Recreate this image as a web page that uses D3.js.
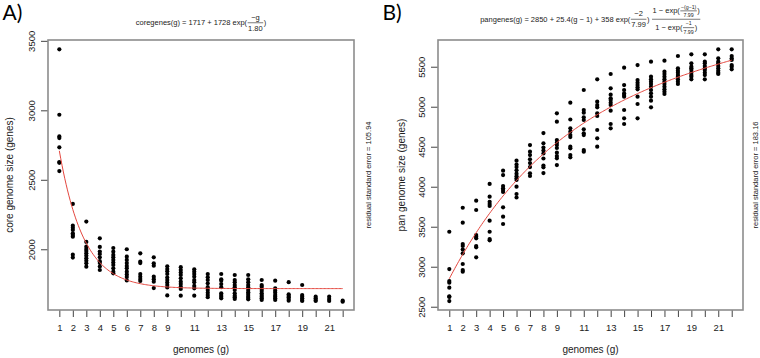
<!DOCTYPE html>
<html>
<head>
<meta charset="utf-8">
<script src="https://cdn.jsdelivr.net/npm/d3@7"></script>
<style>
  body { margin: 0; background: #fff; }
  svg { display: block; }
  text { white-space: pre; }
</style>
</head>
<body>
<svg id="chart"></svg>
<script>
(() => {

  // number of genomes sampled (x categories)
  const genomes = [1, 2, 3, 4, 5, 6, 7, 8, 9, 10, 11, 12, 13, 14, 15, 16, 17, 18, 19, 20, 21, 22];
  const xTickLabels = [1, 2, 3, 4, 5, 6, 7, 8, 9, 11, 13, 15, 17, 19, 21];
  const coreTicks = [2000, 2500, 3000, 3500];
  const panTicks = [2500, 3000, 3500, 4000, 4500, 5000, 5500];

  // core genome size, one list per number of genomes
  const coreSizes = [
    [3439, 2968, 2812, 2800, 2734, 2628, 2622, 2563],
    [2326, 2170, 2155, 2139, 2115, 2103, 2091, 1961, 1940],
    [2199, 2053, 2019, 2002, 1988, 1971, 1954, 1935, 1918, 1899, 1875],
    [2079, 2017, 1984, 1966, 1942, 1914, 1901, 1876, 1851],
    [2009, 1983, 1959, 1942, 1923, 1904, 1887, 1863, 1839, 1827],
    [2000, 1947, 1923, 1901, 1880, 1863, 1839, 1819, 1801, 1776],
    [1971, 1911, 1901, 1822, 1803, 1786, 1772],
    [1942, 1899, 1882, 1803, 1785, 1767, 1721],
    [1878, 1858, 1842, 1822, 1797, 1779, 1761, 1743, 1725, 1668],
    [1871, 1851, 1832, 1815, 1791, 1767, 1750, 1731, 1714, 1666],
    [1856, 1839, 1822, 1803, 1779, 1763, 1736, 1719, 1666],
    [1822, 1799, 1779, 1755, 1727, 1707, 1688, 1671, 1655],
    [1822, 1784, 1774, 1750, 1727, 1683, 1671, 1659, 1647],
    [1815, 1779, 1763, 1743, 1727, 1707, 1683, 1666, 1655, 1642],
    [1815, 1784, 1763, 1743, 1727, 1707, 1691, 1678, 1664, 1652, 1640],
    [1779, 1743, 1731, 1714, 1700, 1683, 1671, 1659, 1647, 1635],
    [1774, 1719, 1702, 1688, 1671, 1659, 1647, 1635],
    [1763, 1676, 1664, 1655, 1642, 1630],
    [1743, 1671, 1659, 1647, 1635, 1628],
    [1659, 1647, 1635, 1628],
    [1659, 1642, 1628],
    [1630, 1623]
  ];

  // pan genome size, one list per number of genomes
  const panSizes = [
    [3437, 2971, 2820, 2800, 2738, 2629, 2622, 2571],
    [3737, 3550, 3284, 3259, 3215, 3168, 3034, 2959, 2938],
    [3825, 3709, 3396, 3375, 3355, 3259, 3243, 3118],
    [4035, 3875, 3812, 3784, 3759, 3575, 3437, 3345, 3330],
    [4200, 4146, 4009, 3980, 3959, 3934, 3742, 3625, 3534],
    [4325, 4278, 4246, 4205, 4163, 4130, 4105, 4084, 4000, 3909, 3865],
    [4521, 4438, 4396, 4343, 4296, 4246, 4168, 4134],
    [4671, 4543, 4490, 4453, 4415, 4353, 4265, 4243, 4171],
    [4918, 4813, 4584, 4550, 4521, 4484, 4425, 4384, 4355, 4271],
    [5050, 4840, 4730, 4688, 4646, 4621, 4500, 4480, 4396, 4368],
    [5209, 4959, 4925, 4868, 4834, 4718, 4668, 4646, 4459, 4438],
    [5343, 5063, 5021, 4993, 4918, 4884, 4709, 4605, 4500],
    [5409, 5230, 5150, 5105, 5084, 5050, 5021, 4950, 4784, 4730],
    [5488, 5271, 5209, 5168, 5146, 5125, 4959, 4855, 4784],
    [5521, 5334, 5300, 5271, 5243, 5218, 5125, 5034, 4855],
    [5563, 5375, 5343, 5313, 5284, 5250, 5209, 5168, 5125, 5075, 4993],
    [5575, 5438, 5409, 5375, 5343, 5313, 5284, 5250, 5218, 5188, 5159],
    [5634, 5480, 5450, 5425, 5396, 5375, 5343, 5313, 5284],
    [5655, 5543, 5500, 5480, 5459, 5425, 5396, 5375, 5343],
    [5655, 5563, 5543, 5509, 5480, 5459, 5425, 5396, 5343],
    [5718, 5605, 5563, 5543, 5509, 5480, 5450, 5425, 5409],
    [5718, 5634, 5605, 5584, 5521, 5500, 5468]
  ];

  // fitted model parameters, as printed in the titles
  const coreFit = [1717, 1728, 1.80];
  const panFit = [2850, 25.4, 358, 7.99];
  const residuals = ['105.94', '183.16'];

  const FONT = '"Liberation Sans", Arial, Helvetica, sans-serif';

  const svg = d3.select('#chart')
    .attr('width', 760)
    .attr('height', 358)
    .attr('font-family', FONT);

  const coreModel = (g) => coreFit[0] + coreFit[1] * Math.exp(-g / coreFit[2]);
  const panModel = (g) => {
    const [a, b, c, tau] = panFit;
    return a + b * (g - 1) + c * Math.exp(-2 / tau) * (1 - Math.exp(-(g - 1) / tau)) / (1 - Math.exp(-1 / tau));
  };

  // lays out text pieces and fractions left to right, returns the width
  function drawExpr(sel, items, size) {
    let x = 0;
    items.forEach((item) => {
      if (typeof item === 'string') {
        const t = sel.append('text')
          .attr('x', x)
          .attr('font-size', size)
          .attr('fill', '#222')
          .text(item);
        x += t.node().getComputedTextLength();
      } else {
        const s = size * (item.scale || 1);
        const gn = sel.append('g');
        const gd = sel.append('g');
        const wn = drawExpr(gn, item.num, s);
        const wd = drawExpr(gd, item.den, s);
        const w = Math.max(wn, wd) + 2;
        const bar = -0.3 * size;
        const bn = gn.node().getBBox();
        const bd = gd.node().getBBox();
        gn.attr('transform', `translate(${x + (w - wn) / 2}, ${bar - 1.2 - (bn.y + bn.height)})`);
        gd.attr('transform', `translate(${x + (w - wd) / 2}, ${bar + 1.2 - bd.y})`);
        sel.append('line')
          .attr('x1', x + 0.5)
          .attr('x2', x + w - 0.5)
          .attr('y1', bar)
          .attr('y2', bar)
          .attr('stroke', '#222')
          .attr('stroke-width', 0.6);
        x += w;
      }
    });
    return x;
  }

  function drawPanel(p) {
    const x = d3.scaleLinear().domain([0.16, 22.84]).range([p.left, p.right]);
    const y = d3.scaleLinear().domain(p.yDomain).range([p.bottom, p.top]);
    const g = svg.append('g');
    const midX = (p.left + p.right) / 2;
    const midY = (p.top + p.bottom) / 2;

    g.append('g')
      .attr('transform', `translate(0, ${p.bottom})`)
      .call(d3.axisBottom(x)
        .tickValues(genomes)
        .tickSize(7)
        .tickFormat(d => xTickLabels.includes(d) ? d : ''))
      .call(a => a.select('.domain').remove())
      .call(a => a.attr('font-family', FONT).attr('font-size', 9.5).style('color', '#444'))
      .call(a => a.selectAll('text').attr('y', 21).attr('dy', 0).attr('fill', '#222'));

    g.append('g')
      .attr('transform', `translate(${p.left}, 0)`)
      .call(d3.axisLeft(y)
        .tickValues(p.ticks)
        .tickFormat(d3.format('d'))
        .tickSize(7))
      .call(a => a.select('.domain').remove())
      .call(a => a.attr('font-family', FONT).attr('font-size', 9.5).style('color', '#444'))
      .call(a => a.selectAll('text')
        .attr('x', 0)
        .attr('y', -13)
        .attr('dy', 0)
        .attr('text-anchor', 'middle')
        .attr('transform', 'rotate(-90)')
        .attr('fill', '#222'));

    g.append('rect')
      .attr('x', p.left)
      .attr('y', p.top)
      .attr('width', p.right - p.left)
      .attr('height', p.bottom - p.top)
      .attr('fill', 'none')
      .attr('stroke', '#8c8c8c')
      .attr('stroke-width', 1.6);

    const points = p.sizes.flatMap((vals, i) => vals.map(v => ({ g: genomes[i], v })));

    g.append('g')
      .selectAll('circle')
      .data(points)
      .enter()
      .append('circle')
      .attr('cx', d => x(d.g))
      .attr('cy', d => y(d.v))
      .attr('r', 2.1)
      .attr('fill', '#000');

    const line = d3.line()
      .x(d => x(d))
      .y(d => y(p.model(d)));

    g.append('path')
      .datum(d3.range(1, 22.001, 0.1))
      .attr('d', line)
      .attr('fill', 'none')
      .attr('stroke', '#e4473f')
      .attr('stroke-width', 1);

    g.append('text')
      .attr('x', midX)
      .attr('y', 353)
      .attr('text-anchor', 'middle')
      .attr('font-size', 10)
      .attr('fill', '#222')
      .text('genomes (g)');

    g.append('text')
      .attr('transform', `translate(${p.yTitleX}, ${midY}) rotate(-90)`)
      .attr('text-anchor', 'middle')
      .attr('font-size', 10)
      .attr('fill', '#222')
      .text(p.yTitle);

    g.append('text')
      .attr('transform', `translate(${p.residualX}, ${midY}) rotate(-90)`)
      .attr('text-anchor', 'middle')
      .attr('font-size', 7.5)
      .attr('fill', '#222')
      .text(`residual standard error = ${p.residual}`);

    g.append('text')
      .attr('x', p.letterX)
      .attr('y', 19.5)
      .attr('font-family', 'Lato, "Open Sans", sans-serif')
      .attr('font-size', 21)
      .attr('fill', '#000')
      .text(p.letter);

    const f = g.append('g');
    const w = drawExpr(f, p.formula, 7.5);
    f.attr('transform', `translate(${midX - w / 2}, ${p.formulaY})`);
  }

  drawPanel({
    left: 48, right: 354, top: 40, bottom: 310,
    yDomain: [1563, 3506],
    ticks: coreTicks,
    sizes: coreSizes,
    model: coreModel,
    yTitle: 'core genome size (genes)',
    yTitleX: 12.5,
    residual: residuals[0],
    residualX: 371,
    letter: 'A)',
    letterX: 2.5,
    formulaY: 25,
    formula: [
      `coregenes(g) = ${coreFit[0]} + ${coreFit[1]} exp(`,
      { num: ['−g'], den: [coreFit[2].toFixed(2)] },
      ')'
    ]
  });

  drawPanel({
    left: 438, right: 743, top: 40, bottom: 310,
    yDomain: [2459, 5834],
    ticks: panTicks,
    sizes: panSizes,
    model: panModel,
    yTitle: 'pan genome size (genes)',
    yTitleX: 404.5,
    residual: residuals[1],
    residualX: 757.5,
    letter: 'B)',
    letterX: 382.5,
    formulaY: 21.5,
    formula: [
      `pangenes(g) = ${panFit[0]} + ${panFit[1]}(g − 1) + ${panFit[2]} exp(`,
      { num: ['−2'], den: [`${panFit[3]}`] },
      ') ',
      {
        num: ['1 − exp(', { num: ['−(g−1)'], den: [`${panFit[3]}`], scale: 0.7 }, ')'],
        den: ['1 − exp(', { num: ['−1'], den: [`${panFit[3]}`], scale: 0.7 }, ')']
      }
    ]
  });

})();
</script>
</body>
</html>
